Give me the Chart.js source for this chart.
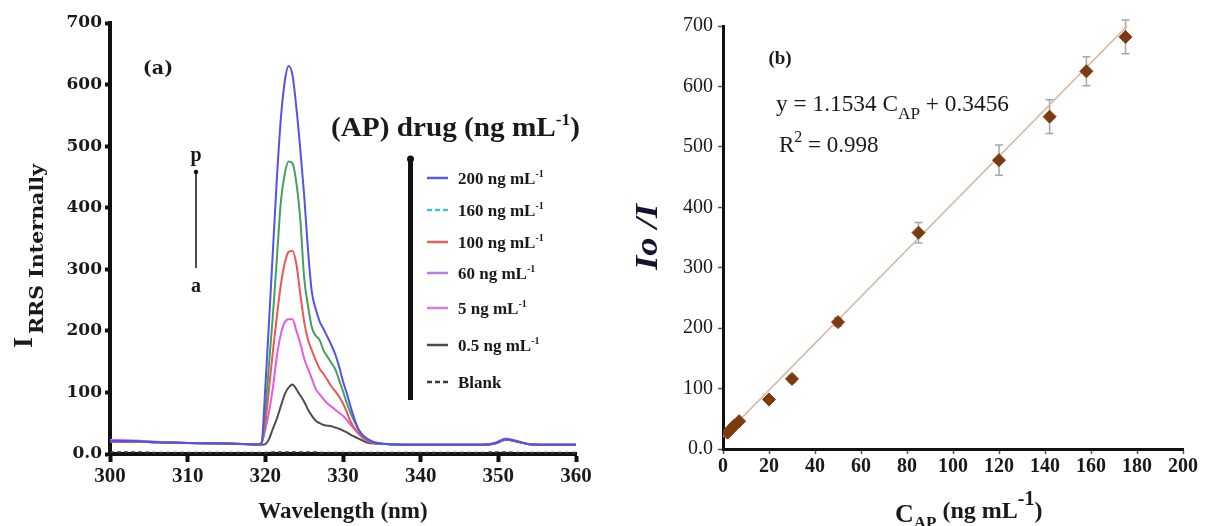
<!DOCTYPE html>
<html>
<head>
<meta charset="utf-8">
<script src="https://cdn.jsdelivr.net/npm/chart.js@4.4.1/dist/chart.umd.min.js"></script>
<style>
    html, body { margin: 0; padding: 0; background: #fff; }
    #wrap { position: relative; width: 1208px; height: 526px; overflow: hidden; }
    #wrap canvas { position: absolute; top: 0; }
    #spectra { left: 0; }
    #calib { left: 600px; }
</style>
</head>
<body>
<div id="wrap">
    <canvas id="spectra" width="600" height="526"></canvas>
    <canvas id="calib" width="608" height="526"></canvas>
</div>
<script>
// (a) RRS spectra, wavelength in nm
const wavelengths = [300, 303, 306, 310, 315, 318, 319, 319.5, 320, 320.5, 321, 321.5, 322, 322.5, 323, 323.5,
    324, 324.5, 325, 325.5, 326, 326.5, 327, 327.5, 328, 328.5, 329, 329.5, 330, 330.5, 331, 331.5, 332, 332.5,
    333, 334, 336, 340, 345, 348, 349.5, 351, 352.5, 354, 357, 360];
const rrs200 = [21, 21, 19, 18, 17, 16, 16, 18, 109, 220, 336, 450, 545, 605, 630, 615, 562, 495, 420, 330,
    262, 235, 215, 203, 190, 177, 162, 142, 118, 98, 76, 56, 40, 31, 26, 19, 16, 15, 15, 15, 17, 24, 20, 16, 15, 15];
const rrs160 = [21, 21, 19, 18, 17, 16, 15, 17, 70, 150, 230, 320, 410, 455, 475, 472, 440, 381, 286, 240,
    205, 192, 185, 168, 158, 148, 138, 120, 102, 82, 66, 52, 40, 31, 25, 19, 16, 15, 15, 15, 17, 23, 20, 16, 15, 15];
const rrs100 = [20, 20, 19, 18, 17, 16, 15, 17, 50, 110, 170, 225, 275, 310, 328, 330, 308, 260, 215, 185,
    168, 152, 138, 130, 120, 110, 102, 93, 82, 68, 52, 42, 34, 28, 23, 18, 16, 15, 15, 15, 17, 24, 20, 16, 15, 15];
const rrs60 = [23, 22, 20, 18, 17, 16, 15, 17, 40, 70, 110, 160, 195, 214, 219, 219, 200, 180, 155, 138,
    122, 105, 97, 89, 82, 77, 72, 67, 62, 55, 47, 40, 33, 27, 22, 18, 16, 15, 15, 15, 18, 25, 21, 16, 15, 15];
const rrs05 = [20, 20, 19, 18, 17, 16, 15, 15, 16, 25, 42, 58, 78, 97, 108, 113, 105, 95, 85, 72,
    62, 54, 50, 47, 46, 45, 43, 41, 38, 35, 31, 28, 25, 22, 19, 17, 16, 15, 15, 15, 17, 23, 20, 16, 15, 15];
const rrsBlank = [3, 3, 2, 2, 2, 2, 2, 2, 2, 2, 3, 3, 3, 3, 3, 3, 3, 3, 3, 3, 3, 3, 2, 2, 2, 2, 2, 2, 2, 2,
    2, 2, 2, 2, 2, 2, 2, 2, 2, 2, 3, 3, 2, 2, 2, 2];
const wlTicks = ['300', '310', '320', '330', '340', '350', '360'];
const rrsTicks = ['0.0', '100', '200', '300', '400', '500', '600', '700'];

const legendConc = ['200', '160', '100', '60', '5', '0.5', 'Blank'];
const legendColors = ['#5a5aea', '#45c2d8', '#e9625c', '#b97ae0', '#d27ee6', '#4a4a4a', '#3a3a3a'];
const legendDashed = [false, true, false, false, false, false, true];

// (b) calibration
const concAP = [2, 3.5, 5, 7, 20, 30, 50, 85, 120, 142, 158, 175];
const ratioIoI = [27, 33, 39, 46, 82, 116, 210, 358, 478, 550, 625, 682];
const ratioErr = [2, 2, 3, 3, 4, 5, 7, 17, 25, 28, 24, 28];
const fitConc = [0, 177];
const fitRatio = [20, 705];
const concTicks = ['0', '20', '40', '60', '80', '100', '120', '140', '160', '180', '200'];
const ratioTicks = ['0.0', '100', '200', '300', '400', '500', '600', '700'];

const serif = '"Liberation Serif", "Times New Roman", serif';
const dejavu = '"DejaVu Serif", serif';
Chart.defaults.font.family = serif;
Chart.defaults.color = '#1a1a1a';

function xy(xs, ys) {
    return xs.map((x, i) => { return { x: x, y: ys[i] }; });
}

// draws text pieces on one baseline, each piece [text, font, dy]
function richText(ctx, x, y, parts, opts) {
    opts = opts || {};
    ctx.save();
    ctx.translate(x, y);
    if (opts.rotate) ctx.rotate(opts.rotate);
    let total = 0;
    parts.forEach(p => { ctx.font = p[1]; total += ctx.measureText(p[0]).width; });
    ctx.scale(opts.width ? opts.width / total : 1, 1);
    let cx = opts.align === 'center' ? -total / 2 : 0;
    ctx.fillStyle = opts.color || '#1a1a1a';
    ctx.textAlign = 'left';
    ctx.textBaseline = 'alphabetic';
    parts.forEach(p => {
        ctx.font = p[1];
        ctx.fillText(p[0], cx, p[2] || 0);
        cx += ctx.measureText(p[0]).width;
    });
    ctx.restore();
}

function curve(label, values, color, dash) {
    return {
        label: label,
        data: xy(wavelengths, values),
        borderColor: color,
        borderWidth: 2,
        borderDash: dash || [],
        pointRadius: 0,
        cubicInterpolationMode: 'monotone',
        fill: false
    };
}

const spectraDecor = {
    id: 'spectraDecor',
    afterDraw(chart) {
        const ctx = chart.ctx;
        const up = -Math.PI / 2;
        richText(ctx, 32, 348, [['I', 'bold 28px ' + serif]], { rotate: up });
        richText(ctx, 43, 334, [['RRS Internally', 'bold 18px ' + dejavu]], { rotate: up, width: 170 });
        richText(ctx, 158, 74, [['(a)', 'bold 19px ' + dejavu]], { align: 'center' });

        // p -> a arrow
        richText(ctx, 196, 161, [['p', 'bold 20px ' + serif]], { align: 'center' });
        richText(ctx, 196, 292, [['a', 'bold 20px ' + serif]], { align: 'center' });
        ctx.save();
        ctx.strokeStyle = '#111';
        ctx.fillStyle = '#111';
        ctx.lineWidth = 1.5;
        ctx.beginPath();
        ctx.moveTo(196, 172);
        ctx.lineTo(196, 268);
        ctx.stroke();
        ctx.beginPath();
        ctx.arc(196, 172, 2.2, 0, 2 * Math.PI);
        ctx.fill();

        // legend
        ctx.fillRect(408, 158, 5, 242);
        ctx.beginPath();
        ctx.arc(410.5, 159, 3.5, 0, 2 * Math.PI);
        ctx.fill();
        const rowY = [178, 210, 242, 273, 308, 345, 382];
        legendConc.forEach((c, i) => {
            ctx.strokeStyle = legendColors[i];
            ctx.lineWidth = 2.5;
            ctx.setLineDash(legendDashed[i] ? [5, 3] : []);
            ctx.beginPath();
            ctx.moveTo(427, rowY[i]);
            ctx.lineTo(448, rowY[i]);
            ctx.stroke();
            const parts = c === 'Blank'
                ? [['Blank', 'bold 17px ' + serif]]
                : [[c + ' ng mL', 'bold 17px ' + serif], ['-1', 'bold 10px ' + serif, -7]];
            richText(ctx, 458, rowY[i] + 6, parts);
        });
        ctx.restore();

        richText(ctx, 331, 136, [['(AP) drug (ng mL', 'bold 27px ' + serif], ['-1', 'bold 16px ' + serif, -11],
            [')', 'bold 27px ' + serif]], { width: 249 });
    }
};

new Chart(document.getElementById('spectra'), {
    type: 'line',
    data: {
        datasets: [
            curve('200 ng mL-1', rrs200, '#5353ec'),
            curve('160 ng mL-1', rrs160, '#44a060'),
            curve('100 ng mL-1', rrs100, '#ec5656'),
            curve('60 ng mL-1', rrs60, '#e25ce6'),
            curve('0.5 ng mL-1', rrs05, '#4d4d4d'),
            curve('Blank', rrsBlank, '#333', [4, 3])
        ]
    },
    options: {
        responsive: false,
        animation: false,
        layout: { padding: { top: 23, right: 24, left: 0, bottom: 0 } },
        plugins: { legend: { display: false }, tooltip: { enabled: false } },
        scales: {
            x: {
                type: 'linear',
                min: 300,
                max: 360,
                ticks: {
                    stepSize: 10, autoSkip: false, maxRotation: 0, padding: 2,
                    font: { size: 21, weight: 'bold' },
                    callback: (v, i) => wlTicks[i]
                },
                grid: { drawOnChartArea: false, tickLength: 8, tickWidth: 4, tickColor: '#111' },
                border: { color: '#111', width: 4 },
                title: { display: true, text: 'Wavelength (nm)', font: { size: 23, weight: 'bold' }, padding: 0 },
                afterFit: s => { s.height = 72; }
            },
            y: {
                min: 0,
                max: 700,
                ticks: {
                    stepSize: 100, padding: 3,
                    font: { family: dejavu, size: 17, weight: 'bold' },
                    callback: (v, i) => rrsTicks[i]
                },
                grid: { drawOnChartArea: false, tickLength: 5, tickWidth: 4, tickColor: '#111' },
                border: { color: '#111', width: 4 },
                afterFit: s => { s.width = 110; }
            }
        }
    },
    plugins: [spectraDecor]
});

const errorBars = {
    id: 'errorBars',
    beforeDatasetsDraw(chart) {
        const ctx = chart.ctx;
        const xs = chart.scales.x, ys = chart.scales.y;
        ctx.save();
        ctx.strokeStyle = '#a6a6a6';
        ctx.lineWidth = 1.5;
        concAP.forEach((c, i) => {
            const px = xs.getPixelForValue(c);
            const top = ys.getPixelForValue(ratioIoI[i] + ratioErr[i]);
            const bot = ys.getPixelForValue(ratioIoI[i] - ratioErr[i]);
            ctx.beginPath();
            ctx.moveTo(px, top); ctx.lineTo(px, bot);
            ctx.moveTo(px - 4, top); ctx.lineTo(px + 4, top);
            ctx.moveTo(px - 4, bot); ctx.lineTo(px + 4, bot);
            ctx.stroke();
        });
        ctx.restore();
    }
};

const calibDecor = {
    id: 'calibDecor',
    afterDraw(chart) {
        const ctx = chart.ctx;
        richText(ctx, 180, 64, [['(b)', 'bold 19px ' + serif]], { align: 'center' });
        richText(ctx, 176, 111, [['y = 1.1534 C', '23px ' + serif], ['AP', '17px ' + serif, 8],
            [' + 0.3456', '23px ' + serif]], { width: 233 });
        richText(ctx, 179, 152, [['R', '23px ' + serif], ['2', '16px ' + serif, -10], [' = 0.998', '23px ' + serif]]);
        richText(ctx, 57, 270, [['Io /I', 'bold italic 32px ' + serif]], { rotate: -Math.PI / 2, width: 66, color: '#141432' });
        richText(ctx, 295, 522, [['C', 'bold 26px ' + serif], ['AP', 'bold 17px ' + serif, 6],
            [' (ng mL', 'bold 24px ' + serif, -4], ['-1', 'bold 20px ' + serif, -17], [')', 'bold 24px ' + serif, -4]]);
    }
};

new Chart(document.getElementById('calib'), {
    type: 'scatter',
    data: {
        datasets: [
            {
                label: 'Io/I',
                data: xy(concAP, ratioIoI),
                pointStyle: 'rectRot',
                pointRadius: 6.5,
                backgroundColor: '#7b3b0e',
                borderColor: '#7b3b0e',
                borderWidth: 1
            },
            {
                type: 'line',
                label: 'fit',
                data: xy(fitConc, fitRatio),
                borderColor: '#d9b9a1',
                borderWidth: 1.6,
                pointRadius: 0,
                showLine: true
            }
        ]
    },
    options: {
        responsive: false,
        animation: false,
        layout: { padding: { top: 26, right: 25, left: 0, bottom: 0 } },
        plugins: { legend: { display: false }, tooltip: { enabled: false } },
        scales: {
            x: {
                type: 'linear',
                min: 0,
                max: 200,
                ticks: {
                    stepSize: 20, autoSkip: false, maxRotation: 0, padding: 1,
                    font: { size: 20, weight: 'bold' },
                    callback: (v, i) => concTicks[i]
                },
                grid: { drawOnChartArea: false, tickLength: 5, tickWidth: 1.5, tickColor: '#555' },
                border: { color: '#111', width: 3 },
                afterFit: s => { s.height = 77; }
            },
            y: {
                min: 0,
                max: 700,
                ticks: {
                    stepSize: 100, padding: 5,
                    font: { size: 20 },
                    callback: (v, i) => ratioTicks[i]
                },
                grid: { drawOnChartArea: false, tickLength: 5, tickWidth: 1.5, tickColor: '#555' },
                border: { color: '#111', width: 3 },
                afterFit: s => { s.width = 123; }
            }
        }
    },
    plugins: [errorBars, calibDecor]
});
</script>
</body>
</html>
